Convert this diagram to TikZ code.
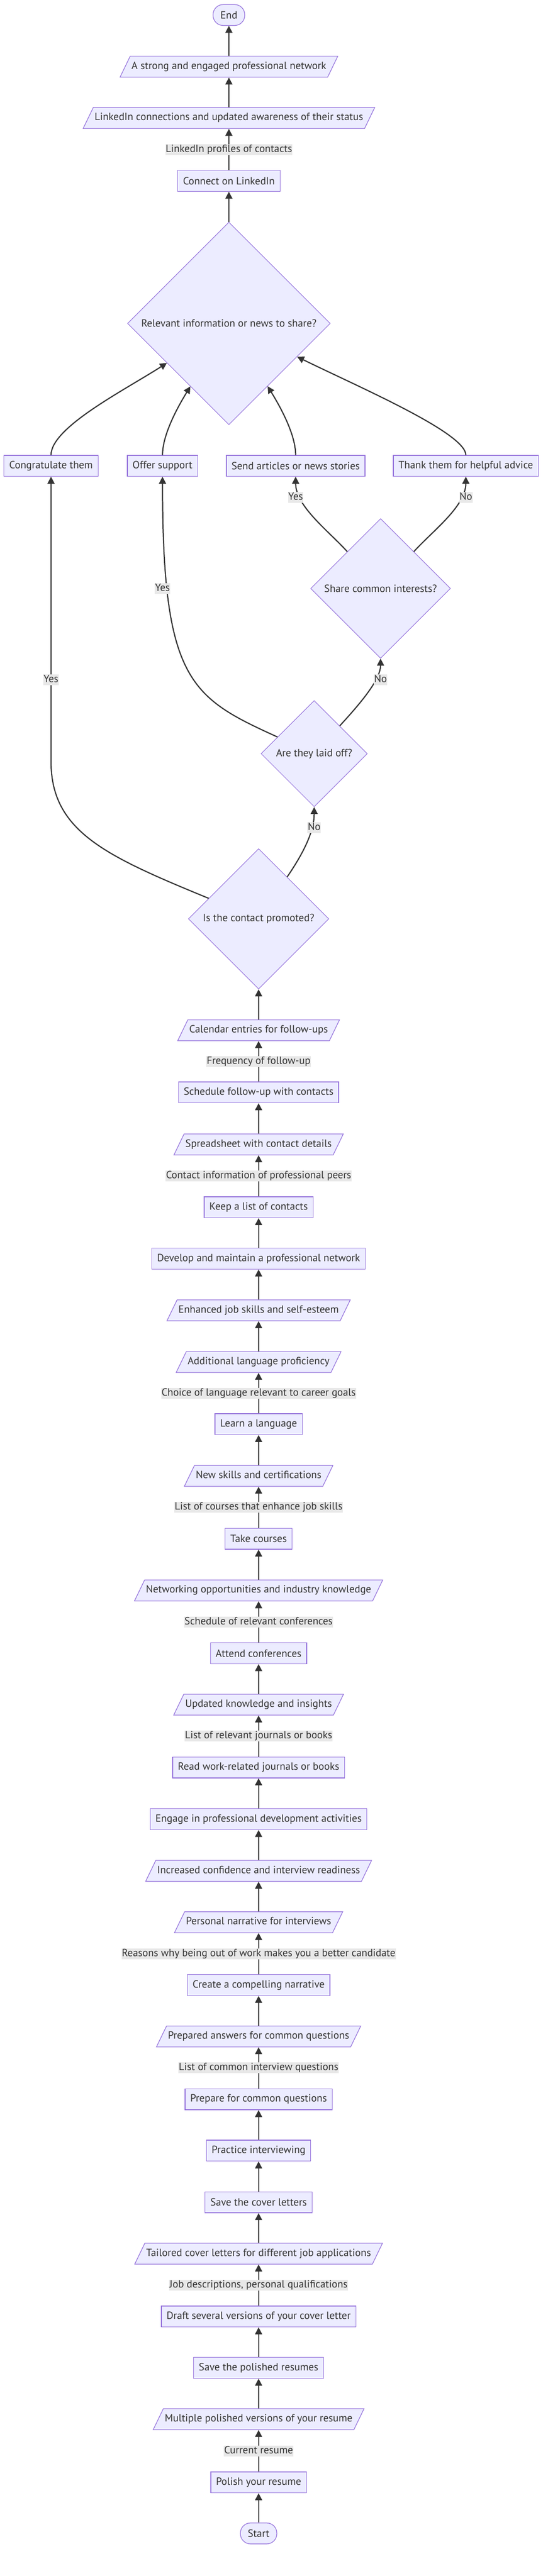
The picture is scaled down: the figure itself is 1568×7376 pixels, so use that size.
\documentclass[tikz,border=0pt]{standalone}
\usepackage{fontspec}
\setmainfont{PT Sans}
\usetikzlibrary{arrows.meta, shapes.geometric}

\definecolor{node-fill}{HTML}{ECECFF}
\definecolor{node-line}{HTML}{9370DB}
\definecolor{flow-line}{HTML}{333333}
\definecolor{label-fill}{HTML}{E8E8E8}

\tikzstyle{process-box}=[rectangle, draw=node-line, fill=node-fill, line width=1.8pt, minimum height=60pt, inner xsep=15pt, inner ysep=0pt, text=flow-line, font=\fontsize{30}{36}\selectfont]
\tikzstyle{data-box}=[trapezium, trapezium left angle=64.2, trapezium right angle=115.8, draw=node-line, fill=node-fill, line width=1.8pt, text height=22pt, text depth=8pt, inner xsep=4pt, inner ysep=15pt, text=flow-line, font=\fontsize{30}{36}\selectfont]
\tikzstyle{decision}=[diamond, aspect=1, inner sep=0pt, draw=node-line, fill=node-fill, line width=1.5pt, text=flow-line, font=\fontsize{30}{36}\selectfont]
\tikzstyle{terminal}=[rectangle, rounded corners=29pt, draw=node-line, fill=node-fill, line width=1.8pt, minimum height=60pt, inner xsep=21pt, text=flow-line, font=\fontsize{30}{36}\selectfont]
\tikzstyle{edge-label}=[fill=label-fill, inner xsep=1pt, inner ysep=0pt, text height=23pt, text depth=8pt, text=flow-line, font=\fontsize{30}{36}\selectfont]
\tikzstyle{flow-arrow}=[draw=flow-line, line width=3.3pt, -{Triangle[length=20pt, width=20pt]}]

\begin{document}
\begin{tikzpicture}
      \useasboundingbox (0pt,0pt) rectangle (1568pt,-7376pt);
      \fill[white] (0pt,0pt) rectangle (1568pt,-7376pt);

      \node (term-end)       at (655pt,  -43pt) [terminal]    {End};
      \node (io-network)     at (655pt, -191pt) [data-box]    {A strong and engaged professional network};
      \node (io-linkedin)    at (655pt, -338pt) [data-box]    {LinkedIn connections and updated awareness of their status};
      \node (act-connect)    at (655pt, -518pt) [process-box] {Connect on LinkedIn};
      \node (ask-share-news) at (655pt, -926pt) [decision, minimum size=580pt] {Relevant information or news to share?};

      \node (act-congratulate) at (146pt,  -1334pt) [process-box] {Congratulate them};
      \node (act-support)      at (465pt,  -1334pt) [process-box] {Offer support};
      \node (act-articles)     at (846pt,  -1334pt) [process-box] {Send articles or news stories};
      \node (act-thank)        at (1333pt, -1334pt) [process-box] {Thank them for helpful advice};

      \node (ask-interests) at (1089pt, -1685pt) [decision, minimum size=400pt] {Share common interests?};
      \node (ask-laid-off)  at (899pt,  -2158pt) [decision, minimum size=304pt] {Are they laid off?};
      \node (ask-promoted)  at (740pt,  -2631pt) [decision, minimum size=402pt] {Is the contact promoted?};
      \coordinate (bend-promoted) at (146pt, -2180pt);

      \node (io-calendar)    at (740pt, -2950pt) [data-box]    {Calendar entries for follow-ups};
      \node (act-schedule)   at (740pt, -3128pt) [process-box] {Schedule follow-up with contacts};
      \node (io-spreadsheet) at (740pt, -3277pt) [data-box]    {Spreadsheet with contact details};
      \node (act-list)       at (740pt, -3457pt) [process-box] {Keep a list of contacts};
      \node (act-develop)    at (740pt, -3604pt) [process-box] {Develop and maintain a professional network};
      \node (io-esteem)      at (740pt, -3752pt) [data-box]    {Enhanced job skills and self-esteem};
      \node (io-proficiency) at (740pt, -3900pt) [data-box]    {Additional language proficiency};
      \node (act-language)   at (740pt, -4078pt) [process-box] {Learn a language};
      \node (io-skills)      at (740pt, -4226pt) [data-box]    {New skills and certifications};
      \node (act-courses)    at (740pt, -4406pt) [process-box] {Take courses};
      \node (io-networking)  at (740pt, -4554pt) [data-box]    {Networking opportunities and industry knowledge};
      \node (act-attend)     at (740pt, -4734pt) [process-box] {Attend conferences};
      \node (io-knowledge)   at (740pt, -4881pt) [data-box]    {Updated knowledge and insights};
      \node (act-read)       at (740pt, -5061pt) [process-box] {Read work-related journals or books};
      \node (act-engage)     at (740pt, -5209pt) [process-box] {Engage in professional development activities};
      \node (io-confidence)  at (740pt, -5357pt) [data-box]    {Increased confidence and interview readiness};
      \node (io-narrative)   at (740pt, -5504pt) [data-box]    {Personal narrative for interviews};
      \node (act-narrative)  at (740pt, -5684pt) [process-box] {Create a compelling narrative};
      \node (io-answers)     at (740pt, -5831pt) [data-box]    {Prepared answers for common questions};
      \node (act-prepare)    at (740pt, -6011pt) [process-box] {Prepare for common questions};
      \node (act-practice)   at (740pt, -6158pt) [process-box] {Practice interviewing};
      \node (act-save-letters) at (740pt, -6306pt) [process-box] {Save the cover letters};
      \node (io-letters)     at (740pt, -6453pt) [data-box]    {Tailored cover letters for different job applications};
      \node (act-draft)      at (740pt, -6633pt) [process-box] {Draft several versions of your cover letter};
      \node (act-save-resumes) at (740pt, -6780pt) [process-box] {Save the polished resumes};
      \node (io-resumes)     at (740pt, -6927pt) [data-box]    {Multiple polished versions of your resume};
      \node (act-polish)     at (740pt, -7108pt) [process-box] {Polish your resume};
      \node (term-start)     at (740pt, -7254pt) [terminal]    {Start};

      \draw[flow-arrow] (term-start) -- (act-polish);
      \draw[flow-arrow] (act-polish) -- (io-resumes) node[midway, edge-label] {Current resume};
      \draw[flow-arrow] (io-resumes) -- (act-save-resumes);
      \draw[flow-arrow] (act-save-resumes) -- (act-draft);
      \draw[flow-arrow] (act-draft) -- (io-letters) node[midway, edge-label] {Job descriptions, personal qualifications};
      \draw[flow-arrow] (io-letters) -- (act-save-letters);
      \draw[flow-arrow] (act-save-letters) -- (act-practice);
      \draw[flow-arrow] (act-practice) -- (act-prepare);
      \draw[flow-arrow] (act-prepare) -- (io-answers) node[midway, edge-label] {List of common interview questions};
      \draw[flow-arrow] (io-answers) -- (act-narrative);
      \draw[flow-arrow] (act-narrative) -- (io-narrative) node[midway, edge-label] {Reasons why being out of work makes you a better candidate};
      \draw[flow-arrow] (io-narrative) -- (io-confidence);
      \draw[flow-arrow] (io-confidence) -- (act-engage);
      \draw[flow-arrow] (act-engage) -- (act-read);
      \draw[flow-arrow] (act-read) -- (io-knowledge) node[midway, edge-label] {List of relevant journals or books};
      \draw[flow-arrow] (io-knowledge) -- (act-attend);
      \draw[flow-arrow] (act-attend) -- (io-networking) node[midway, edge-label] {Schedule of relevant conferences};
      \draw[flow-arrow] (io-networking) -- (act-courses);
      \draw[flow-arrow] (act-courses) -- (io-skills) node[midway, edge-label] {List of courses that enhance job skills};
      \draw[flow-arrow] (io-skills) -- (act-language);
      \draw[flow-arrow] (act-language) -- (io-proficiency) node[midway, edge-label] {Choice of language relevant to career goals};
      \draw[flow-arrow] (io-proficiency) -- (io-esteem);
      \draw[flow-arrow] (io-esteem) -- (act-develop);
      \draw[flow-arrow] (act-develop) -- (act-list);
      \draw[flow-arrow] (act-list) -- (io-spreadsheet) node[midway, edge-label] {Contact information of professional peers};
      \draw[flow-arrow] (io-spreadsheet) -- (act-schedule);
      \draw[flow-arrow] (act-schedule) -- (io-calendar) node[midway, edge-label] {Frequency of follow-up};
      \draw[flow-arrow] (io-calendar) -- (ask-promoted);

      \draw[flow-arrow] (ask-promoted) .. controls (300pt,-2450pt) and (146pt,-2380pt) .. (bend-promoted) -- (act-congratulate);
      \draw[flow-arrow] (ask-promoted) .. controls (870pt,-2440pt) and (899pt,-2380pt) .. (ask-laid-off);
      \draw[flow-arrow] (ask-laid-off) .. controls (545pt,-1997pt) and (465pt,-1950pt) .. (act-support);
      \draw[flow-arrow] (ask-laid-off) .. controls (1035pt,-2010pt) and (1089pt,-1945pt) .. (ask-interests);
      \draw[flow-arrow] (ask-interests) .. controls (940pt,-1520pt) and (846pt,-1450pt) .. (act-articles);
      \draw[flow-arrow] (ask-interests) .. controls (1238pt,-1520pt) and (1333pt,-1450pt) .. (act-thank);

      \draw[flow-arrow] (act-congratulate) .. controls (146pt,-1224pt) and (353pt,-1119pt) .. (ask-share-news);
      \draw[flow-arrow] (act-support) .. controls (465pt,-1240pt) and (515pt,-1155pt) .. (ask-share-news);
      \draw[flow-arrow] (act-articles) .. controls (846pt,-1240pt) and (796pt,-1155pt) .. (ask-share-news);
      \draw[flow-arrow] (act-thank) .. controls (1333pt,-1240pt) and (1031pt,-1110pt) .. (ask-share-news);

      \draw[flow-arrow] (ask-share-news) -- (act-connect);
      \draw[flow-arrow] (act-connect) -- (io-linkedin) node[midway, edge-label] {LinkedIn profiles of contacts};
      \draw[flow-arrow] (io-linkedin) -- (io-network);
      \draw[flow-arrow] (io-network) -- (term-end);

      \node (label-yes-promoted)  at (146pt,  -1946pt) [edge-label] {Yes};
      \node (label-no-promoted)   at (899pt,  -2370pt) [edge-label] {No};
      \node (label-yes-laid-off)  at (465pt,  -1685pt) [edge-label] {Yes};
      \node (label-no-laid-off)   at (1089pt, -1946pt) [edge-label] {No};
      \node (label-yes-interests) at (846pt,  -1424pt) [edge-label] {Yes};
      \node (label-no-interests)  at (1333pt, -1424pt) [edge-label] {No};
    \end{tikzpicture}
\end{document}
